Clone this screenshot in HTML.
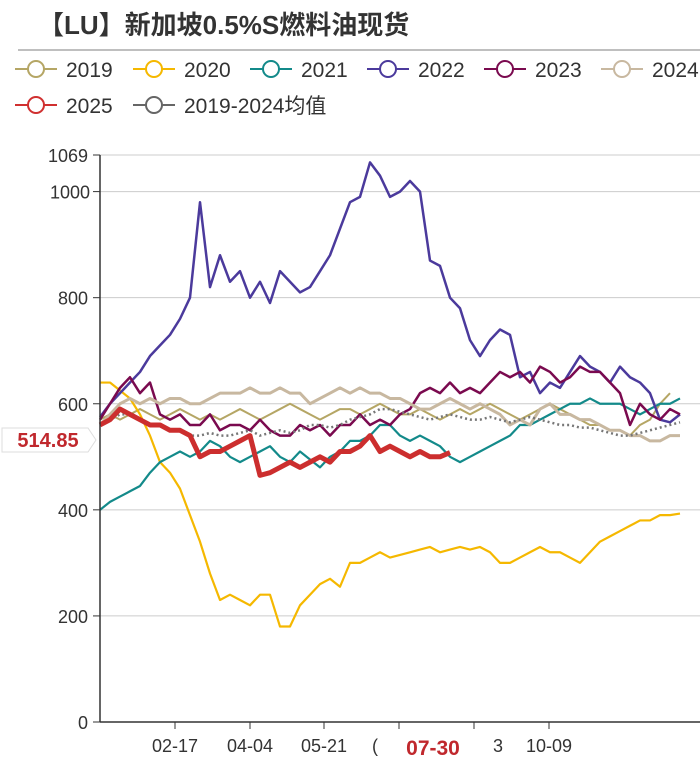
<!DOCTYPE html>
<html><head><meta charset="utf-8"><style>
body{margin:0;background:#fff;width:700px;height:760px;overflow:hidden;font-family:"Liberation Sans","Noto Sans CJK SC",sans-serif}
</style></head><body>
<svg id="c" width="700" height="760" xmlns="http://www.w3.org/2000/svg">
<text x="38" y="34" font-size="26" font-weight="bold" fill="#333" font-family="Liberation Sans,Noto Sans CJK SC,sans-serif">【LU】新加坡0.5%S燃料油现货</text>
<line x1="18" y1="50" x2="700" y2="50" stroke="#aaa" stroke-width="1.5"/>
<g id="legend"></g>
<g id="grid"></g>
<g id="series"></g>
<g id="axes"></g>
</svg>
<script>
const yTicks=[0,200,400,600,800,1000,1069];
const xTickLabels=["02-17","04-04","05-21","(","07-30","3","10-09"];
const xTickIdx=[7.5,15,22.4,29.9,37.4,44.9];
const s2019=[570,580,570,580,590,580,570,580,590,580,570,580,570,580,590,580,570,580,590,600,590,580,570,580,590,590,580,590,600,590,580,580,590,580,570,580,590,580,590,600,590,580,570,580,590,600,590,580,570,560,560,550,550,540,560,570,600,620];
const s2020=[640,640,625,610,580,540,490,470,440,390,340,280,230,240,230,220,240,240,180,180,220,240,260,270,255,300,300,310,320,310,315,320,325,330,320,325,330,325,330,320,300,300,310,320,330,320,320,310,300,320,340,350,360,370,380,380,390,390,393];
const s2021=[400,415,425,435,445,470,490,500,510,500,510,530,520,500,490,500,510,520,500,490,510,495,480,500,510,530,530,540,560,560,540,530,540,530,520,500,490,500,510,520,530,540,560,560,570,580,590,600,600,610,600,600,600,590,580,590,600,600,610];
const s2022=[575,600,620,640,660,690,710,730,760,800,980,820,880,830,850,800,830,790,850,830,810,820,850,880,930,980,990,1055,1030,990,1000,1020,1000,870,860,800,780,720,690,720,740,730,650,660,620,640,630,660,690,670,660,640,670,650,640,620,570,565,580];
const s2023=[570,600,630,650,620,640,580,570,580,560,560,580,550,560,560,550,570,550,540,540,560,550,560,540,560,560,580,560,570,560,580,590,620,630,620,640,620,630,620,640,660,650,660,640,670,660,640,650,670,660,660,640,620,560,600,580,570,590,580];
const s2024=[560,580,600,610,600,610,600,610,610,600,600,610,620,620,620,630,620,620,630,620,620,600,610,620,630,620,630,620,620,610,610,600,590,590,600,610,600,590,600,590,580,560,570,560,590,600,580,580,570,570,560,550,550,540,540,530,530,540,540];
const sMean=[560,570,580,580,570,560,560,550,550,540,540,545,540,540,545,550,540,545,550,545,550,560,560,555,560,570,575,580,590,590,585,580,575,570,575,580,575,570,570,575,570,565,570,575,570,565,560,560,555,555,550,545,540,540,545,550,555,560,565];
const s2025=[560,570,590,580,570,560,560,550,550,540,500,510,510,520,530,540,465,470,480,490,480,490,500,490,510,510,520,540,510,520,510,500,510,500,500,508];
const x=i=>100+i*10;
const y=v=>722-v*0.5304;
const NS="http://www.w3.org/2000/svg";
function mk(tag,attrs,parent){const e=document.createElementNS(NS,tag);for(const k in attrs)e.setAttribute(k,attrs[k]);parent.appendChild(e);return e;}
const grid=document.getElementById('grid'),axes=document.getElementById('axes'),ser=document.getElementById('series'),leg=document.getElementById('legend');
yTicks.forEach(t=>{
 if(t>0){const l=mk('line',{x1:100,x2:700,y1:y(t),y2:y(t),stroke:'#ccc','stroke-width':1},grid);
 
 }
 const tx=mk('text',{x:t===1000?90:88,y:y(t)+7,'text-anchor':'end','font-size':18,fill:'#333'},axes);tx.textContent=t;
 
 
 mk('line',{x1:93,x2:100,y1:y(t),y2:y(t),stroke:'#333'},axes);
});
const ax=mk('line',{x1:100,x2:100,y1:y(1069),y2:722,stroke:'#333','stroke-width':1.5},axes);


const xa=mk('line',{x1:100,x2:700,y1:722,y2:722,stroke:'#333','stroke-width':1.5},axes);


xTickIdx.forEach((xi,k)=>{
 mk('line',{x1:x(xi),x2:x(xi),y1:722,y2:729,stroke:'#333'},axes);
 const tx=mk('text',{x:x(xi),y:752,'text-anchor':'middle','font-size':18,fill:'#333'},axes);
 tx.textContent=xTickLabels[k<3?k:k+1];
 if(k===3){tx.textContent="(";tx.setAttribute('x',x(xi)-24);}
 if(k===4){tx.textContent="3";tx.setAttribute('x',x(xi)+24);}
 
 
});
const series=[
 ['2019',s2019,'#b5a665',2,''],['2020',s2020,'#f5b800',2.2,''],['2021',s2021,'#138a8a',2.2,''],
 ['2022',s2022,'#4b3a9c',2.5,''],['2023',s2023,'#7a0a4f',2.5,''],['2024',s2024,'#c8b8a0',3,''],
 ['mean',sMean,'#777',2.5,'2,3'],['2025',s2025,'#cc2e2e',5,'']];
series.forEach(([n,d,c,w,dash])=>{
 const p=mk('path',{d:d.map((v,i)=>(i?'L':'M')+x(i)+','+y(v)).join(''),fill:'none',stroke:c,'stroke-width':w,'stroke-dasharray':dash,'stroke-linejoin':'round'},ser);
 
 
});
const lb=mk('g',{},axes);


mk('path',{d:'M2,428 H88 L96,440 L88,452 H2 Z',fill:'#fff',stroke:'#ddd'},lb);
const lt=mk('text',{x:48,y:447,'text-anchor':'middle','font-size':20,'font-weight':'bold',fill:'#c0282d'},lb);lt.textContent='514.85';
const xl=mk('g',{},axes);


mk('rect',{x:392,y:730,width:80,height:30,fill:'#fff'},xl);
const xt=mk('text',{x:433,y:755,'text-anchor':'middle','font-size':21,'font-weight':'bold',fill:'#c0282d'},xl);xt.textContent='07-30';
const items=[['2019','#b5a665',15,69],['2020','#f5b800',133,69],['2021','#138a8a',250,69],['2022','#4b3a9c',367,69],['2023','#7a0a4f',484,69],['2024','#c8b8a0',601,69],['2025','#d03030',15,105],['2019-2024均值','#666',133,105]];
items.forEach(([t,c,lx,ly])=>{
 const g=mk('g',{},leg);
 
 
 mk('line',{x1:lx,x2:lx+42,y1:ly,y2:ly,stroke:c,'stroke-width':2},g);
 mk('circle',{cx:lx+21,cy:ly,r:8,fill:'#fff',stroke:c,'stroke-width':2},g);
 const tx=mk('text',{x:lx+51,y:ly+8,'font-size':21,fill:'#333'},g);tx.textContent=t;
});
</script>
</body></html>
